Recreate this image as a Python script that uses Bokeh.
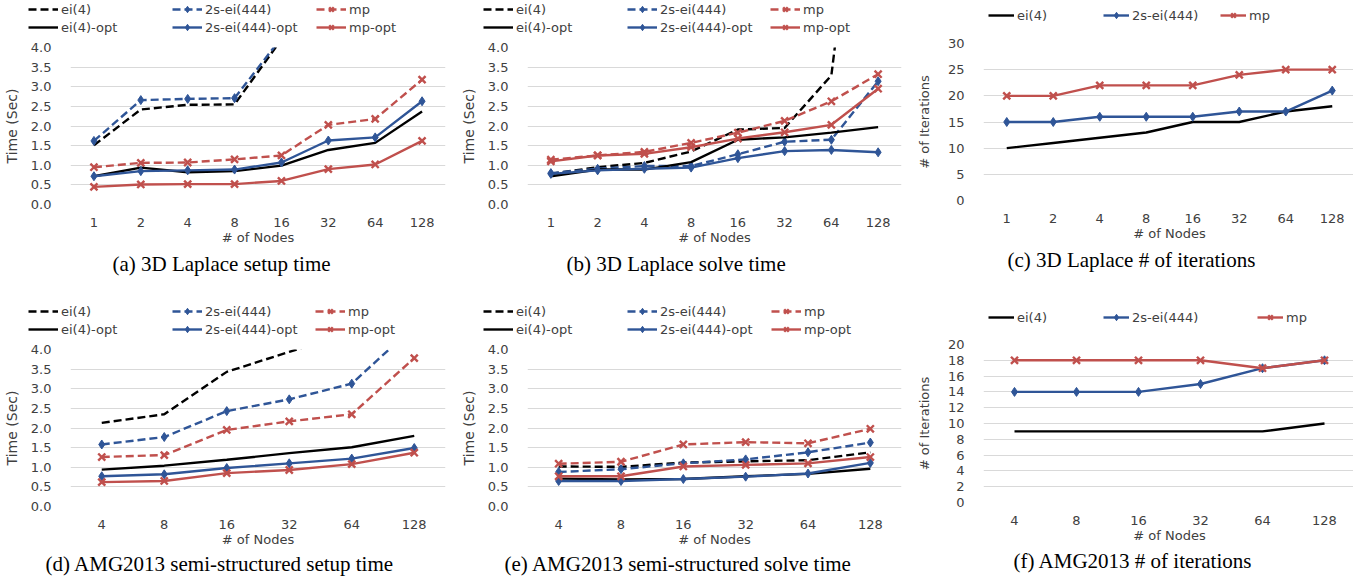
from bokeh.plotting import figure
from bokeh.models import (FactorRange, Range1d, FixedTicker, Legend, LegendItem,
                          Title, NumeralTickFormatter)
from bokeh.layouts import column, row
from bokeh.embed import file_html
from bokeh.resources import INLINE

# ---------------- data ----------------
nodes_laplace = ["1", "2", "4", "8", "16", "32", "64", "128"]
nodes_amg = ["4", "8", "16", "32", "64", "128"]

# (a) 3D Laplace setup time (sec)
a_ei4 = [1.51, 2.42, 2.54, 2.55, 4.21, 4.8, 5.6, 7.0]
a_2s = [1.62, 2.66, 2.69, 2.71, 4.25, 4.9, 5.8, 7.4]
a_mp = [0.95, 1.06, 1.07, 1.15, 1.25, 2.03, 2.18, 3.18]
a_ei4_opt = [0.72, 0.94, 0.82, 0.85, 0.99, 1.39, 1.57, 2.37]
a_2s_opt = [0.72, 0.85, 0.87, 0.89, 1.07, 1.63, 1.71, 2.63]
a_mp_opt = [0.45, 0.51, 0.52, 0.52, 0.60, 0.90, 1.02, 1.62]

# (b) 3D Laplace solve time (sec)
b_ei4 = [0.78, 0.95, 1.06, 1.35, 1.91, 1.95, 3.29, 13.0]
b_2s = [0.80, 0.91, 0.98, 0.98, 1.28, 1.60, 1.65, 3.14]
b_mp = [1.14, 1.25, 1.34, 1.57, 1.83, 2.13, 2.63, 3.32]
b_ei4_opt = [0.72, 0.89, 0.89, 1.08, 1.65, 1.71, 1.83, 1.97]
b_2s_opt = [0.78, 0.87, 0.91, 0.94, 1.18, 1.36, 1.39, 1.33]
b_mp_opt = [1.10, 1.25, 1.29, 1.46, 1.68, 1.84, 2.03, 2.95]

# (c) 3D Laplace # of iterations
c_ei4 = [10, 11, 12, 13, 15, 15, 17, 18]
c_2s = [15, 15, 16, 16, 16, 17, 17, 21]
c_mp = [20, 20, 22, 22, 22, 24, 25, 25]

# (d) AMG2013 semi-structured setup time (sec)
d_ei4 = [2.13, 2.35, 3.43, 3.94, 4.45, 5.2]
d_2s = [1.58, 1.77, 2.43, 2.73, 3.13, 4.59]
d_mp = [1.26, 1.31, 1.95, 2.17, 2.35, 3.78]
d_ei4_opt = [0.94, 1.04, 1.19, 1.36, 1.51, 1.80]
d_2s_opt = [0.77, 0.82, 0.98, 1.10, 1.22, 1.49]
d_mp_opt = [0.62, 0.65, 0.85, 0.93, 1.08, 1.37]

# (e) AMG2013 semi-structured solve time (sec)
e_ei4 = [1.02, 1.01, 1.12, 1.15, 1.18, 1.38]
e_2s = [0.88, 0.95, 1.10, 1.20, 1.38, 1.63]
e_mp = [1.09, 1.14, 1.58, 1.64, 1.61, 1.98]
e_ei4_opt = [0.71, 0.69, 0.70, 0.77, 0.83, 0.96]
e_2s_opt = [0.65, 0.65, 0.70, 0.76, 0.84, 1.11]
e_mp_opt = [0.77, 0.77, 1.02, 1.06, 1.10, 1.26]

# (f) AMG2013 # of iterations
f_ei4 = [9, 9, 9, 9, 9, 10]
f_2s = [14, 14, 14, 15, 17, 18]
f_mp = [18, 18, 18, 18, 17, 18]

time_ticks = [0, 0.5, 1.0, 1.5, 2.0, 2.5, 3.0, 3.5, 4.0]
iter_ticks_c = [0, 5, 10, 15, 20, 25, 30]
iter_ticks_f = [0, 2, 4, 6, 8, 10, 12, 14, 16, 18, 20]

BLACK = "#000000"
BLUE = "#2F5597"
RED = "#C0504D"
TXT = "#404040"
FONT = "DejaVu Sans"
D = "8 4"
S = "solid"


def style_series(name):
    color = BLACK if name.startswith("ei") else (BLUE if name.startswith("2s") else RED)
    marker = None if name.startswith("ei") else ("diamond" if name.startswith("2s") else "x")
    return color, marker


def add_series(p, factors, name, vals, dash):
    color, marker = style_series(name)
    rs = [p.line(x=factors, y=vals, line_color=color, line_width=2.4, line_dash=dash)]
    if marker == "diamond":
        rs.append(p.scatter(x=factors, y=vals, marker="diamond", size=9,
                            line_color=color, fill_color=color, line_width=1))
    elif marker == "x":
        rs.append(p.scatter(x=factors, y=vals, marker="x", size=10,
                            line_color=color, line_width=2.4))
    return rs


def make_chart(factors, series, ymax, ticks, fmt, ylabel, ylabel_size, caption, geo):
    p = figure(x_range=FactorRange(factors=factors, range_padding=0),
               y_range=Range1d(0, ymax),
               frame_width=geo["fw"], frame_height=geo["fh"],
               min_border_left=geo["bl"], min_border_right=geo["br"],
               min_border_top=geo["bt"], min_border_bottom=geo["bb"],
               output_backend="svg", toolbar_location=None, tools="")
    p.outline_line_color = None
    p.xgrid.grid_line_color = None
    t = FixedTicker(ticks=ticks)
    p.yaxis.ticker = t
    p.ygrid.ticker = t
    p.ygrid.grid_line_color = "#D9D9D9"
    p.ygrid.grid_line_width = 1
    p.yaxis.formatter = NumeralTickFormatter(format=fmt)
    for ax in (p.xaxis[0], p.yaxis[0]):
        ax.axis_line_color = None
        ax.major_tick_line_color = None
        ax.minor_tick_line_color = None
        ax.major_label_text_font = FONT
        ax.major_label_text_font_size = "13px"
        ax.major_label_text_color = TXT
        ax.axis_label_text_font = FONT
        ax.axis_label_text_font_size = "13px"
        ax.axis_label_text_font_style = "normal"
        ax.axis_label_text_color = TXT
    p.xaxis.axis_label = "# of Nodes"
    p.xaxis.major_label_standoff = 7
    p.xaxis.axis_label_standoff = 0
    p.yaxis.axis_label = ylabel
    p.yaxis.axis_label_text_font_size = ylabel_size
    p.yaxis.major_label_standoff = 13
    p.yaxis.axis_label_standoff = geo["yls"]
    for name, vals, dash in series:
        add_series(p, factors, name, vals, dash)
    p.add_layout(Title(text=caption, align="left", offset=geo["cap"],
                       standoff=geo["cst"],
                       text_font="Liberation Serif", text_font_size="21px",
                       text_font_style="normal", text_color="black"), "below")
    return p


def make_legend_strip(factors, series, height, placements):
    """A strip holding the legends of one row of charts. The series are drawn on a
    y-range where they fall outside the view, so only the legend entries show."""
    lf = figure(width=1351, height=height,
                x_range=FactorRange(factors=factors, range_padding=0),
                y_range=Range1d(-1000, -999),
                x_axis_type=None, y_axis_type=None, min_border=0,
                output_backend="svg", toolbar_location=None, tools="")
    lf.outline_line_color = None
    lf.grid.visible = False
    rends = {}
    for name, vals, dash in series:
        rends[name] = add_series(lf, factors, name, vals, dash)
    for label, key, x, y, gw in placements:
        lf.add_layout(Legend(items=[LegendItem(label=label, renderers=rends[key])],
                             location=(x, y), orientation="horizontal",
                             glyph_width=gw, glyph_height=16, label_height=16,
                             label_standoff=3, padding=0, margin=0, spacing=0,
                             border_line_alpha=0, background_fill_alpha=0,
                             label_text_font=FONT, label_text_font_size="13px",
                             label_text_color=TXT))
    return lf


col_geo = [dict(bl=63, fw=375, br=12, yls=8),
           dict(bl=68, fw=374, br=8, yls=8),
           dict(bl=74, fw=372, br=5, yls=13)]


def g(col, bt, fh, bb, cap, cst):
    d = dict(col_geo[col])
    d.update(bt=bt, fh=fh, bb=bb, cap=cap, cst=cst)
    return d


pa = make_chart(nodes_laplace,
                [("ei(4)", a_ei4, D), ("2s-ei(444)", a_2s, D), ("mp", a_mp, D),
                 ("ei(4)-opt", a_ei4_opt, S), ("2s-ei(444)-opt", a_2s_opt, S), ("mp-opt", a_mp_opt, S)],
                4, time_ticks, "0.0", "Time (Sec)", "14px", "(a) 3D Laplace setup time",
                g(0, 12, 157, 96, 42, 4))
pb = make_chart(nodes_laplace,
                [("ei(4)", b_ei4, D), ("2s-ei(444)", b_2s, D), ("mp", b_mp, D),
                 ("ei(4)-opt", b_ei4_opt, S), ("2s-ei(444)-opt", b_2s_opt, S), ("mp-opt", b_mp_opt, S)],
                4, time_ticks, "0.0", "Time (Sec)", "14px", "(b) 3D Laplace solve time",
                g(1, 12, 157, 96, 39, 4))
pc = make_chart(nodes_laplace,
                [("ei(4)", c_ei4, S), ("2s-ei(444)", c_2s, S), ("mp", c_mp, S)],
                30, iter_ticks_c, "0", "# of Iterations", "13px", "(c) 3D Laplace # of iterations",
                g(2, 8, 157, 100, 24, 4))
pd_ = make_chart(nodes_amg,
                 [("ei(4)", d_ei4, D), ("2s-ei(444)", d_2s, D), ("mp", d_mp, D),
                  ("ei(4)-opt", d_ei4_opt, S), ("2s-ei(444)-opt", d_2s_opt, S), ("mp-opt", d_mp_opt, S)],
                 4, time_ticks, "0.0", "Time (Sec)", "14px", "(d) AMG2013 semi-structured setup time",
                 g(0, 12, 157, 73, -25, 1))
pe = make_chart(nodes_amg,
                [("ei(4)", e_ei4, D), ("2s-ei(444)", e_2s, D), ("mp", e_mp, D),
                 ("ei(4)-opt", e_ei4_opt, S), ("2s-ei(444)-opt", e_2s_opt, S), ("mp-opt", e_mp_opt, S)],
                4, time_ticks, "0.0", "Time (Sec)", "14px", "(e) AMG2013 semi-structured solve time",
                g(1, 12, 157, 73, -23, 1))
pf = make_chart(nodes_amg,
                [("ei(4)", f_ei4, S), ("2s-ei(444)", f_2s, S), ("mp", f_mp, S)],
                20, iter_ticks_f, "0", "# of Iterations", "13px", "(f) AMG2013 # of iterations",
                g(2, 7, 158, 77, 30, 3))


# legend placements: (label, renderer key, x, bottom y in strip, glyph width)
def time_legend(x0, cols):
    return [("ei(4)", "ei(4)", x0 + cols[0], 18, 30),
            ("2s-ei(444)", "2s-ei(444)", x0 + cols[1], 18, 30),
            ("mp", "mp", x0 + cols[2], 18, 30),
            ("ei(4)-opt", "ei(4)-opt", x0 + cols[0], 0, 30),
            ("2s-ei(444)-opt", "2s-ei(444)-opt", x0 + cols[1], 0, 30),
            ("mp-opt", "mp-opt", x0 + cols[2], 0, 30)]


def iter_legend(x0, cols, y):
    return [("ei(4)", "ei(4)-opt", x0 + cols[0], y, 26),
            ("2s-ei(444)", "2s-ei(444)-opt", x0 + cols[1], y, 26),
            ("mp", "mp-opt", x0 + cols[2], y, 26)]


top_series = [("ei(4)", a_ei4, D), ("2s-ei(444)", a_2s, D), ("mp", a_mp, D),
              ("ei(4)-opt", a_ei4_opt, S), ("2s-ei(444)-opt", a_2s_opt, S), ("mp-opt", a_mp_opt, S)]
bot_series = [("ei(4)", d_ei4, D), ("2s-ei(444)", d_2s, D), ("mp", d_mp, D),
              ("ei(4)-opt", d_ei4_opt, S), ("2s-ei(444)-opt", d_2s_opt, S), ("mp-opt", d_mp_opt, S)]

leg_top = make_legend_strip(nodes_laplace, top_series, 35,
                            time_legend(0, [28, 172, 316]) +
                            time_legend(450, [33, 177, 320]) +
                            iter_legend(900, [88, 203, 320], 12))
leg_bot = make_legend_strip(nodes_amg, bot_series, 37,
                            time_legend(0, [28, 172, 315]) +
                            time_legend(450, [33, 177, 321]) +
                            iter_legend(900, [88, 203, 357], 12))

# each chart wrapped in its own column so the row does not force equal frame tops
layout = column(leg_top, row(column(pa), column(pb), column(pc)),
                leg_bot, row(column(pd_), column(pe), column(pf)))
open("out.html", "w").write(file_html(layout, INLINE))
